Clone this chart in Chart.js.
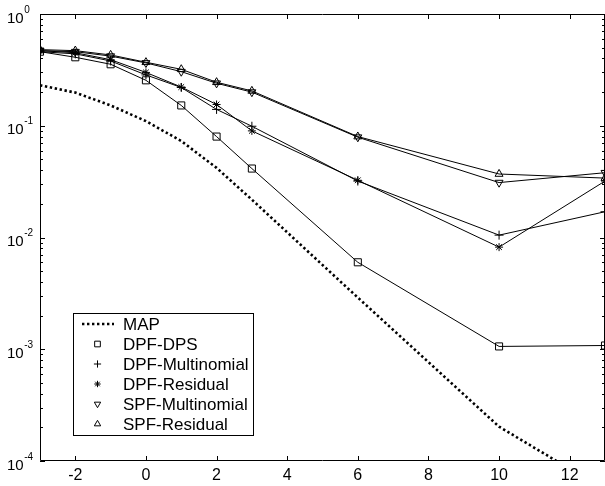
<!DOCTYPE html>
<html>
<head>
<meta charset="utf-8">
<script src="https://cdn.jsdelivr.net/npm/chart.js@4.4.1/dist/chart.umd.min.js"></script>
<style>
  html, body { margin: 0; padding: 0; background: #fff; }
  #wrap { width: 605px; height: 486px; }
</style>
</head>
<body>
<div id="wrap"><canvas id="chart" width="605" height="486"></canvas></div>
<script>
// ---- data ----
const snr = [-3, -2, -1, 0, 1, 2, 3, 6, 10, 13];
const mapErr       = [0.23, 0.198, 0.152, 0.110, 0.073, 0.042, 0.0218, 0.0029, 0.000203, 0.000055];
const dpfDps       = [0.46, 0.41, 0.355, 0.255, 0.152, 0.080, 0.0414, 0.0060, 0.00106, 0.00108];
const dpfMulti     = [0.46, 0.44, 0.38, 0.285, 0.220, 0.140, 0.099, 0.032, 0.0105, 0.017];
const dpfResidual  = [0.47, 0.45, 0.39, 0.300, 0.222, 0.155, 0.090, 0.0325, 0.0082, 0.032];
const spfMulti     = [0.47, 0.46, 0.42, 0.365, 0.305, 0.240, 0.200, 0.079, 0.031, 0.038];
const spfResidual  = [0.48, 0.47, 0.43, 0.370, 0.320, 0.245, 0.205, 0.080, 0.037, 0.034];
const xTicks = [-2, 0, 2, 4, 6, 8, 10, 12];
const yExponents = [0, -1, -2, -3, -4];

const FONT = '"Liberation Sans", Arial, Helvetica, sans-serif';
const pts = arr => snr.map((x, i) => ({ x, y: arr[i] }));

function series(label, arr, style, radius, extra) {
  return Object.assign({
    label,
    data: pts(arr),
    borderColor: '#000',
    borderWidth: 1,
    pointStyle: style,
    pointRadius: radius,
    pointHoverRadius: radius,
    pointBorderColor: '#000',
    pointBorderWidth: 1,
    pointBackgroundColor: 'rgba(0,0,0,0)',
    tension: 0,
    fill: false
  }, extra || {});
}

const datasets = [
  series('MAP', mapErr, false, 0, { borderWidth: 2.6, borderDash: [2.4, 2.6], borderCapStyle: 'butt' }),
  series('DPF-DPS', dpfDps, 'rect', 5),
  series('DPF-Multinomial', dpfMulti, 'cross', 4.5),
  series('DPF-Residual', dpfResidual, 'star', 4),
  series('SPF-Multinomial', spfMulti, 'triangle', 4.6, { pointRotation: 180 }),
  series('SPF-Residual', spfResidual, 'triangle', 4.6)
];

// ---- frame, inward ticks, y labels with exponents, legend ----
const matlabAxes = {
  id: 'matlabAxes',
  afterDraw(chart) {
    const { ctx, chartArea: a, scales } = chart;
    const xs = scales.x, ys = scales.y;
    ctx.save();
    ctx.strokeStyle = '#000';
    ctx.lineWidth = 1;
    ctx.beginPath();
    ctx.rect(a.left + 0.5, a.top + 0.5, a.right - a.left - 1, a.bottom - a.top - 1);
    ctx.stroke();

    // x ticks on top and bottom
    ctx.beginPath();
    xTicks.forEach(v => {
      const px = Math.round(xs.getPixelForValue(v)) + 0.5;
      ctx.moveTo(px, a.bottom); ctx.lineTo(px, a.bottom - 5);
      ctx.moveTo(px, a.top); ctx.lineTo(px, a.top + 5);
    });
    // y ticks, major and minor, left and right
    yExponents.forEach(e => {
      for (let m = 1; m <= 9; m++) {
        const v = m * Math.pow(10, e);
        if (v > 1.0001 || v < 0.99e-4) continue;
        const py = Math.round(ys.getPixelForValue(v)) + 0.5;
        const len = m === 1 ? 5 : 3;
        ctx.moveTo(a.left, py); ctx.lineTo(a.left + len, py);
        ctx.moveTo(a.right, py); ctx.lineTo(a.right - len, py);
      }
    });
    ctx.stroke();

    // y labels: 10 with superscript exponent
    ctx.fillStyle = '#000';
    ctx.textAlign = 'left';
    ctx.textBaseline = 'alphabetic';
    yExponents.forEach(e => {
      const py = ys.getPixelForValue(Math.pow(10, e));
      ctx.font = '15px ' + FONT;
      ctx.fillText('10', 7, py + 8.5);
      const w = ctx.measureText('10').width;
      ctx.font = '10px ' + FONT;
      ctx.fillText(e === 0 ? '0' : '-' + Math.abs(e), 7 + w + 0.5, py - 1.5);
    });

    // legend box
    const L = { left: 73, top: 313, right: 253, bottom: 435 };
    ctx.fillStyle = '#fff';
    ctx.fillRect(L.left, L.top, L.right - L.left, L.bottom - L.top);
    ctx.strokeRect(L.left + 0.5, L.top + 0.5, L.right - L.left, L.bottom - L.top);
    ctx.font = '17px ' + FONT;
    ctx.textBaseline = 'middle';
    chart.data.datasets.forEach((ds, i) => {
      const cy = 324 + i * 20;
      ctx.save();
      ctx.strokeStyle = '#000';
      ctx.fillStyle = 'rgba(0,0,0,0)';
      if (!ds.pointStyle) {
        ctx.lineWidth = ds.borderWidth;
        ctx.setLineDash(ds.borderDash);
        ctx.beginPath();
        ctx.moveTo(82, cy); ctx.lineTo(114, cy);
        ctx.stroke();
      } else {
        ctx.lineWidth = 1;
        Chart.helpers.drawPoint(ctx, {
          pointStyle: ds.pointStyle,
          radius: ds.pointRadius * 0.8,
          rotation: ds.pointRotation || 0,
          borderWidth: 1
        }, 97.5, cy);
      }
      ctx.restore();
      ctx.fillStyle = '#000';
      ctx.fillText(ds.label, 123, cy + 1);
    });
    ctx.restore();
  }
};

new Chart(document.getElementById('chart'), {
  type: 'line',
  data: { datasets },
  plugins: [matlabAxes],
  options: {
    responsive: false,
    animation: false,
    layout: { autoPadding: false, padding: { top: 14, right: 0, left: 0, bottom: 0 } },
    plugins: { legend: { display: false }, tooltip: { enabled: false } },
    scales: {
      x: {
        type: 'linear',
        min: -3,
        max: 13,
        afterBuildTicks: s => { s.ticks = xTicks.map(v => ({ value: v })); },
        afterFit: s => { s.height = 25; s.paddingLeft = 0; s.paddingRight = 0; },
        grid: { display: false, drawTicks: false },
        border: { display: false },
        ticks: { color: '#000', font: { family: FONT, size: 16 }, padding: 5, maxRotation: 0 }
      },
      y: {
        type: 'logarithmic',
        min: 1e-4,
        max: 1,
        afterFit: s => { s.width = 40; },
        grid: { display: false, drawTicks: false },
        border: { display: false },
        ticks: { display: false }
      }
    }
  }
});
</script>
</body>
</html>
